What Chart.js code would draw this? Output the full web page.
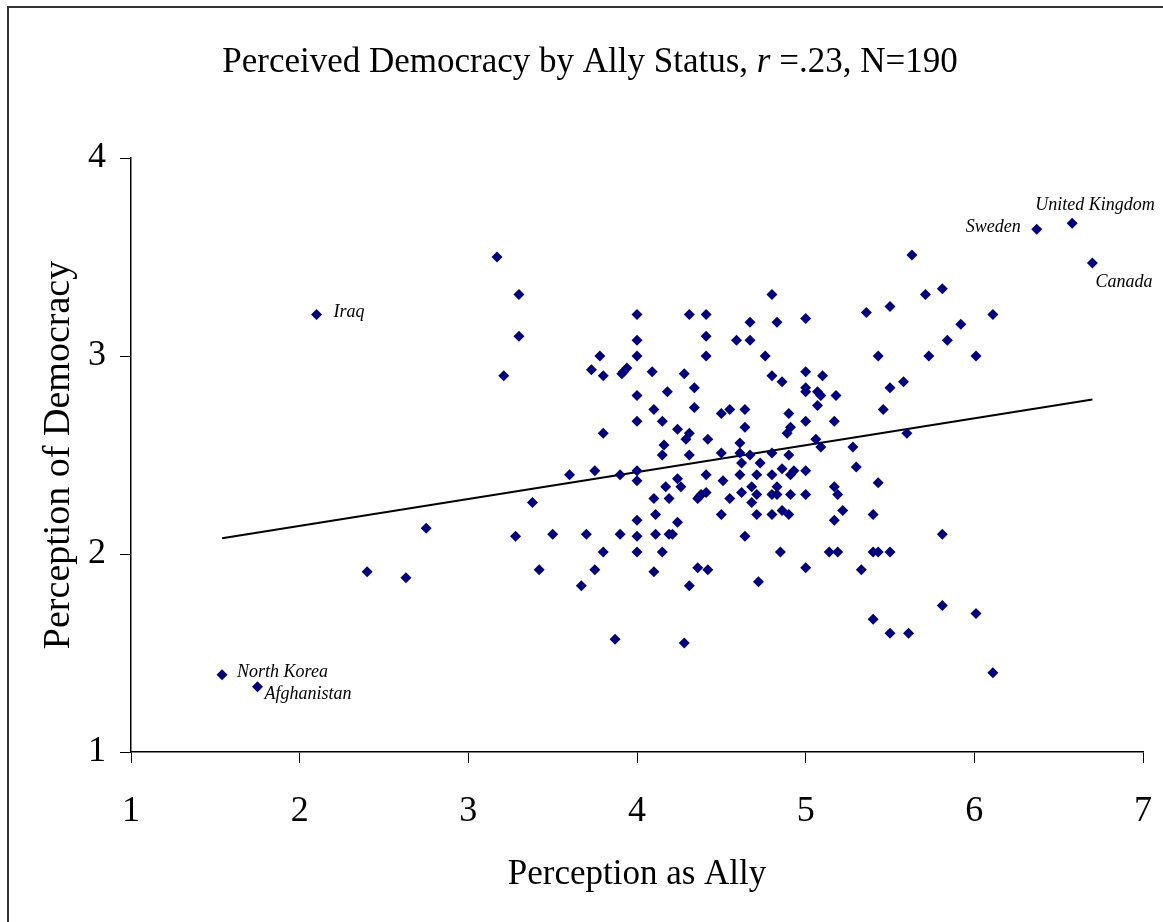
<!DOCTYPE html>
<html>
<head>
<meta charset="utf-8">
<script src="https://cdn.jsdelivr.net/npm/chart.js@4.4.1/dist/chart.umd.min.js"></script>
<style>
  body { margin: 0; background: #fff; }
  canvas { display: block; }
</style>
</head>
<body>
<canvas id="chart" width="1163" height="922"></canvas>
<script>
// perception as ally (x) and perceived democracy (y), one entry per country
const allyScores = [
  1.54, 1.75, 2.10, 3.17, 3.30, 3.30, 3.21, 2.75, 2.40, 2.63, 3.38, 3.28, 3.42,
  4.00, 4.31, 4.41, 4.80, 4.67, 4.83, 5.00,
  4.00, 4.41, 4.59, 4.67,
  3.78, 4.00, 4.41, 4.76,
  3.73, 3.80, 3.91, 3.94, 3.92, 4.09, 4.28, 4.80, 4.86, 5.00, 5.10,
  4.00, 4.18, 4.34, 5.00, 5.00, 5.07, 5.09, 5.18,
  4.10, 4.34, 4.50, 4.55, 4.64, 4.90, 5.07,
  4.00, 4.15, 4.64, 4.91, 5.00, 5.17,
  3.80, 4.24, 4.31, 4.29, 4.42, 4.89, 4.61, 5.06, 5.09,
  4.16, 4.15, 4.31, 4.50, 4.61, 4.67, 4.80, 4.90,
  4.62, 4.73,
  3.60, 3.75, 3.90, 4.00, 4.00, 4.24, 4.41, 4.51, 4.61, 4.71, 4.80, 4.86, 4.91, 4.93, 5.00,
  5.17, 4.17, 4.26, 4.68, 4.83,
  5.19, 4.10, 4.19, 4.36, 4.38, 4.41, 4.37, 4.55, 4.62, 4.71, 4.80, 4.83, 4.91, 5.00,
  4.68, 4.86, 4.90, 4.80, 4.71, 4.50, 4.11, 4.00, 4.24, 5.17,
  3.50, 3.70, 3.90, 4.00, 4.11, 4.19, 4.21, 4.64,
  3.80, 4.00, 4.15, 4.85, 5.14, 5.19,
  3.75, 4.10, 4.36, 4.42, 5.00,
  3.67, 4.31, 4.72,
  3.87, 4.28,
  6.58, 6.37, 6.70,
  5.63, 5.71, 5.81, 5.36, 5.50, 6.11, 5.92, 5.84, 5.43, 5.73, 6.01, 5.58, 5.50, 5.46, 5.60, 5.28,
  5.30, 5.43, 5.22, 5.40, 5.81, 5.40, 5.43, 5.50, 5.33, 5.81, 6.01, 5.40, 5.50, 5.61, 6.11
];
const democracyScores = [
  1.39, 1.33, 3.21, 3.50, 3.31, 3.10, 2.90, 2.13, 1.91, 1.88, 2.26, 2.09, 1.92,
  3.21, 3.21, 3.21, 3.31, 3.17, 3.17, 3.19,
  3.08, 3.10, 3.08, 3.08,
  3.00, 3.00, 3.00, 3.00,
  2.93, 2.90, 2.91, 2.94, 2.92, 2.92, 2.91, 2.90, 2.87, 2.92, 2.90,
  2.80, 2.82, 2.84, 2.84, 2.82, 2.82, 2.80, 2.80,
  2.73, 2.74, 2.71, 2.73, 2.73, 2.71, 2.75,
  2.67, 2.67, 2.64, 2.64, 2.67, 2.67,
  2.61, 2.63, 2.61, 2.58, 2.58, 2.61, 2.56, 2.58, 2.54,
  2.55, 2.50, 2.50, 2.51, 2.51, 2.50, 2.51, 2.50,
  2.46, 2.46,
  2.40, 2.42, 2.40, 2.42, 2.37, 2.38, 2.40, 2.37, 2.40, 2.40, 2.40, 2.43, 2.40, 2.42, 2.42,
  2.34, 2.34, 2.34, 2.34, 2.34,
  2.30, 2.28, 2.28, 2.28, 2.30, 2.31, 2.29, 2.28, 2.31, 2.30, 2.30, 2.30, 2.30, 2.30,
  2.26, 2.22, 2.20, 2.20, 2.20, 2.20, 2.20, 2.17, 2.16, 2.17,
  2.10, 2.10, 2.10, 2.09, 2.10, 2.10, 2.10, 2.09,
  2.01, 2.01, 2.01, 2.01, 2.01, 2.01,
  1.92, 1.91, 1.93, 1.92, 1.93,
  1.84, 1.84, 1.86,
  1.57, 1.55,
  3.67, 3.64, 3.47,
  3.51, 3.31, 3.34, 3.22, 3.25, 3.21, 3.16, 3.08, 3.00, 3.00, 3.00, 2.87, 2.84, 2.73, 2.61, 2.54,
  2.44, 2.36, 2.22, 2.20, 2.10, 2.01, 2.01, 2.01, 1.92, 1.74, 1.70, 1.67, 1.60, 1.60, 1.40
];

// fitted line end points
const trendX = [1.54, 6.70];
const trendY = [2.08, 2.78];

// named countries
const countryNames = ['North Korea', 'Afghanistan', 'Iraq', 'Sweden', 'United Kingdom', 'Canada'];
const countryX = [1.54, 1.75, 2.10, 6.37, 6.58, 6.70];
const countryY = [1.39, 1.33, 3.21, 3.64, 3.67, 3.47];

const xTicks = [1, 2, 3, 4, 5, 6, 7];
const yTicks = [1, 2, 3, 4];

const serif = '"Liberation Serif", "Times New Roman", serif';

var points = allyScores.map((x, i) => ({ x: x, y: democracyScores[i] }));
var trend = trendX.map((x, i) => ({ x: x, y: trendY[i] }));

// label placement relative to the point: dx, dy, alignment
const labelPlace = {
  'North Korea':    [15, -3, 'left'],
  'Afghanistan':    [7, 8, 'left'],
  'Iraq':           [17, -2, 'left'],
  'Sweden':         [-16, -2, 'right'],
  'United Kingdom': [-37, -18, 'left'],
  'Canada':         [3, 19, 'left']
};

const decorations = {
  id: 'decorations',
  afterDraw(chart) {
    const ctx = chart.ctx;
    const xs = chart.scales.x, ys = chart.scales.y;
    ctx.save();
    // outer frame
    ctx.strokeStyle = '#333';
    ctx.lineWidth = 2;
    ctx.strokeRect(8, 7, 1170, 940);

    // title with italic r
    const parts = [
      ['Perceived Democracy by Ally Status, ', 'normal'],
      ['r', 'italic'],
      [' =.23, N=190', 'normal']
    ];
    const size = 35;
    let total = 0;
    parts.forEach(p => {
      ctx.font = p[1] + ' ' + size + 'px ' + serif;
      total += ctx.measureText(p[0]).width;
    });
    let x = 590 - total / 2;
    ctx.fillStyle = '#000';
    ctx.textBaseline = 'alphabetic';
    ctx.textAlign = 'left';
    parts.forEach(p => {
      ctx.font = p[1] + ' ' + size + 'px ' + serif;
      ctx.fillText(p[0], x, 72);
      x += ctx.measureText(p[0]).width;
    });

    // country labels
    ctx.font = 'italic 18px ' + serif;
    ctx.textBaseline = 'middle';
    countryNames.forEach((name, i) => {
      const pl = labelPlace[name];
      ctx.textAlign = pl[2];
      ctx.fillText(name, xs.getPixelForValue(countryX[i]) + pl[0], ys.getPixelForValue(countryY[i]) + pl[1]);
    });
    ctx.restore();
  }
};

var ctx = document.getElementById('chart').getContext('2d');

var chart = new Chart(ctx, {
  type: 'scatter',
  data: {
    datasets: [{
      label: 'Countries',
      data: points,
      pointStyle: 'rectRot',
      pointRadius: 5.5,
      pointBackgroundColor: '#000080',
      pointBorderColor: '#000080',
      pointBorderWidth: 0
    }, {
      label: 'Fit',
      data: trend,
      showLine: true,
      borderColor: '#000',
      borderWidth: 2,
      pointRadius: 0,
      fill: false
    }]
  },
  options: {
    responsive: false,
    animation: false,
    devicePixelRatio: 1,
    layout: { padding: { top: 158, right: 20, left: 0, bottom: 0 } },
    plugins: {
      legend: { display: false },
      tooltip: { enabled: false },
      title: { display: false }
    },
    scales: {
      x: {
        type: 'linear',
        min: 1, max: 7,
        afterBuildTicks: s => { s.ticks = xTicks.map(v => ({ value: v })); },
        afterFit: s => { s.height = 170; s.paddingRight = 0; s.paddingLeft = 0; },
        grid: { drawOnChartArea: false, drawTicks: true, tickLength: 11, color: '#000', lineWidth: 1 },
        border: { display: true, color: '#000', width: 1.5 },
        ticks: { color: '#000', padding: 27, font: { family: serif, size: 36 }, maxRotation: 0 },
        title: { display: true, text: 'Perception as Ally', color: '#000', font: { family: serif, size: 35 }, padding: { top: 0, bottom: 26 } }
      },
      y: {
        type: 'linear',
        min: 1, max: 4,
        afterBuildTicks: s => { s.ticks = yTicks.map(v => ({ value: v })); },
        afterFit: s => { s.width = 131; },
        grid: { drawOnChartArea: false, drawTicks: true, tickLength: 11, color: '#000', lineWidth: 1 },
        border: { display: true, color: '#000', width: 1.5 },
        ticks: { color: '#000', padding: 14, font: { family: serif, size: 36 } },
        title: { display: true, text: 'Perception of Democracy', color: '#000', font: { family: serif, size: 38 }, padding: { top: 36, bottom: 0 } }
      }
    }
  },
  plugins: [decorations]
});
</script>
</body>
</html>
